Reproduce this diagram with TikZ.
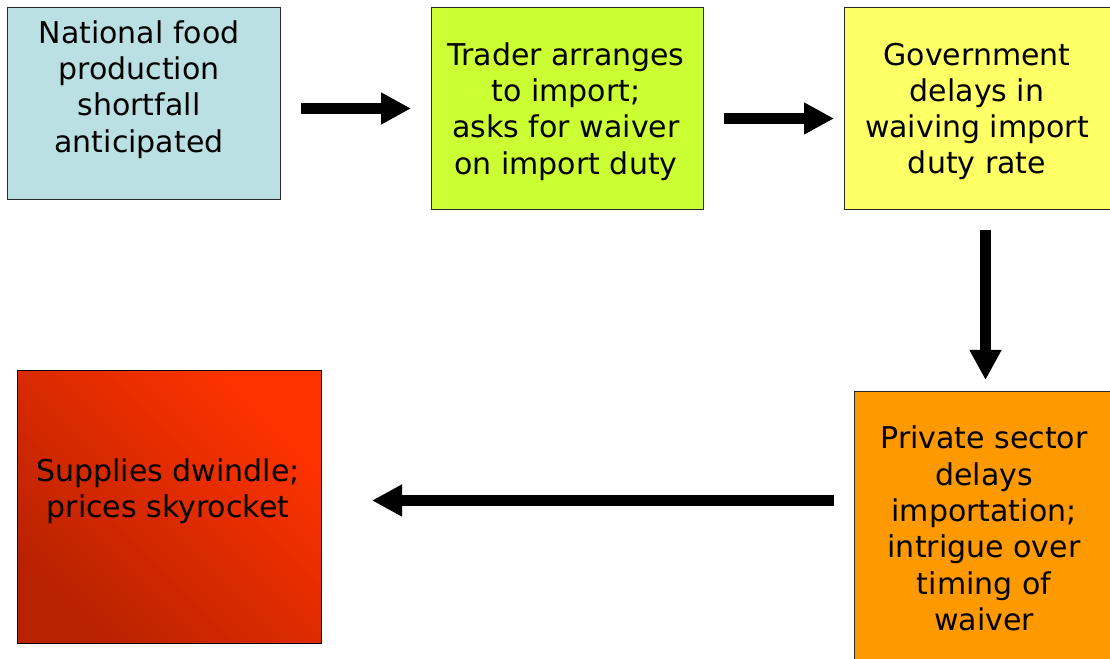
\documentclass[tikz,border=0pt]{standalone}
\usepackage{fontspec}
\setmainfont{DejaVu Sans}
\usetikzlibrary{arrows.meta}
\definecolor{c1}{RGB}{187,224,227}
\definecolor{c2}{RGB}{204,255,51}
\definecolor{c3}{RGB}{255,255,102}
\definecolor{c4}{RGB}{255,153,0}
\definecolor{c5dark}{RGB}{184,34,0}
\definecolor{c5light}{RGB}{255,51,0}
\definecolor{edge}{RGB}{40,40,40}
\tikzset{
  box/.style={draw=edge, line width=1pt, rectangle, anchor=north west, inner sep=0pt},
  txt/.style={align=center, inner sep=0pt, font=\fontsize{30}{36.3}\selectfont, text=black},
  arr/.style={line width=11pt, -{Triangle[width=30pt,length=30pt]}, black}
}
\begin{document}
\begin{tikzpicture}[x=1pt,y=1pt]
\clip (0,0) rectangle (1110,658);
\fill[white] (0,0) rectangle (1110,658);
\node[box, fill=c1, minimum width=273pt, minimum height=192pt] (b1) at (7,651) {};
\node[box, fill=c2, minimum width=272pt, minimum height=202pt] (b2) at (431,651) {};
\node[box, fill=c3, minimum width=268pt, minimum height=202pt] (b3) at (844,651) {};
\node[box, fill=c4, minimum width=258pt, minimum height=274pt] (b4) at (854,267) {};
\node[box, draw=black, bottom color=c5dark, top color=c5light, shading angle=-45, minimum width=304pt, minimum height=273pt] (b5) at (17,288) {};

\node[txt] (t1) at (139,568.5) {National food\\production\\shortfall\\anticipated};
\node[txt] (t2) at (566,546.5) {Trader arranges\\to import;\\asks for waiver\\on import duty};
\node[txt] (t3) at (977,546.5) {Government\\delays in\\waiving import\\duty rate};
\node[txt] (t4) at (984,129.5) {Private sector\\delays\\importation;\\intrigue over\\timing of\\waiver};
\node[txt] (t5) at (168,167) {Supplies dwindle;\\prices skyrocket};

\draw[arr] ([xshift=20pt,yshift=-5pt]b1.east) -- ([xshift=-20pt]b2.west);
\draw[arr] ([xshift=20pt,yshift=-10pt]b2.east) -- ([xshift=-10pt,yshift=-10pt]b3.west);
\draw[arr] ([xshift=7pt,yshift=-20pt]b3.south) -- ([xshift=2pt,yshift=11pt]b4.north);
\draw[arr] ([xshift=-20pt,yshift=28pt]b4.west) -- ([xshift=50pt,yshift=6.5pt]b5.east);
\end{tikzpicture}
\end{document}
